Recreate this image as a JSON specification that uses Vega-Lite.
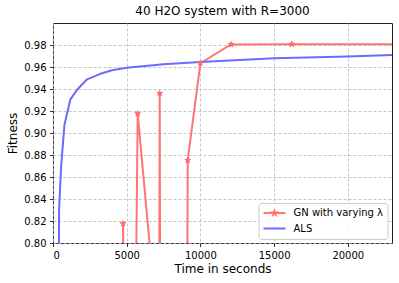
{
  "$schema": "https://vega.github.io/schema/vega-lite/v6.json",
  "width": 339,
  "height": 220,
  "autosize": {"type": "none"},
  "padding": {"left": 53, "top": 23, "right": 7, "bottom": 40},
  "background": "white",
  "title": {"text": "40 H2O system with R=3000", "fontSize": 12, "font": "DejaVu Sans", "fontWeight": "normal", "color": "#000000", "offset": 5, "anchor": "middle"},
  "config": {
    "font": "DejaVu Sans",
    "view": {"stroke": "#222222", "strokeWidth": 1},
    "axis": {
      "domain": false,
      "grid": true,
      "gridColor": "#b8b8b8",
      "gridWidth": 0.8,
      "gridDash": [3, 2],
      "tickColor": "#000000",
      "tickSize": 3.5,
      "tickWidth": 0.8,
      "labelFont": "DejaVu Sans",
      "labelFontSize": 10,
      "labelColor": "#000000",
      "labelPadding": 3.5,
      "titleFont": "DejaVu Sans",
      "titleFontSize": 12,
      "titleFontWeight": "normal",
      "titleColor": "#000000"
    }
  },
  "datasets": {
    "runs": [
      {"series": "GN with varying λ", "t": 4700, "fit": 0.70},
      {"series": "GN with varying λ", "t": 4756, "fit": 0.8176},
      {"series": "GN with varying λ", "t": 4810, "fit": 0.70},
      {"series": "GN with varying λ", "t": 5580, "fit": 0.70},
      {"series": "GN with varying λ", "t": 5746, "fit": 0.9176},
      {"series": "GN with varying λ", "t": 7200, "fit": 0.705},
      {"series": "GN with varying λ", "t": 7239, "fit": 0.936},
      {"series": "GN with varying λ", "t": 7280, "fit": 0.70},
      {"series": "GN with varying λ", "t": 9100, "fit": 0.70},
      {"series": "GN with varying λ", "t": 9138, "fit": 0.8752},
      {"series": "GN with varying λ", "t": 10000, "fit": 0.9634},
      {"series": "GN with varying λ", "t": 12083, "fit": 0.9805},
      {"series": "GN with varying λ", "t": 16194, "fit": 0.9807},
      {"series": "GN with varying λ", "t": 24000, "fit": 0.9808},
      {"series": "ALS", "t": 380, "fit": 0.60},
      {"series": "ALS", "t": 410, "fit": 0.83},
      {"series": "ALS", "t": 550, "fit": 0.869},
      {"series": "ALS", "t": 773, "fit": 0.907},
      {"series": "ALS", "t": 1180, "fit": 0.9306},
      {"series": "ALS", "t": 1676, "fit": 0.940},
      {"series": "ALS", "t": 2313, "fit": 0.9488},
      {"series": "ALS", "t": 3216, "fit": 0.9538},
      {"series": "ALS", "t": 4000, "fit": 0.957},
      {"series": "ALS", "t": 5000, "fit": 0.9594},
      {"series": "ALS", "t": 7500, "fit": 0.9625},
      {"series": "ALS", "t": 10000, "fit": 0.9645},
      {"series": "ALS", "t": 15000, "fit": 0.968},
      {"series": "ALS", "t": 20000, "fit": 0.9695},
      {"series": "ALS", "t": 23000, "fit": 0.9709}
    ]
  },
  "data": {"name": "runs"},
  "encoding": {
    "x": {"field": "t", "type": "quantitative", "title": "Time in seconds",
      "scale": {"domain": [0, 23000], "nice": false, "zero": false},
      "axis": {"values": [0, 5000, 10000, 15000, 20000], "format": "d", "titlePadding": 3}},
    "y": {"field": "fit", "type": "quantitative", "title": "Fitness",
      "scale": {"domain": [0.8, 1.0], "nice": false, "zero": false},
      "axis": {"values": [0.80, 0.82, 0.84, 0.86, 0.88, 0.90, 0.92, 0.94, 0.96, 0.98], "format": ".2f", "titlePadding": 4}}
  },
  "layer": [
    {
      "mark": {"type": "line", "clip": true, "strokeWidth": 2, "strokeJoin": "round", "strokeCap": "round"},
      "encoding": {
        "color": {"field": "series", "type": "nominal",
          "scale": {"domain": ["GN with varying λ", "ALS"], "range": ["#ff7474", "#6b6bff"]},
          "legend": {
            "title": null,
            "orient": "none",
            "legendX": 205.5,
            "legendY": 180,
            "direction": "vertical",
            "fillColor": "rgba(255,255,255,0.85)",
            "strokeColor": "#cccccc",
            "cornerRadius": 3,
            "padding": 4,
            "labelFont": "DejaVu Sans",
            "labelFontSize": 10,
            "labelColor": "#000000",
            "labelOffset": 7,
            "symbolSize": 484,
            "symbolStrokeWidth": 2,
            "clipHeight": 12,
            "rowPadding": 3.6,
            "encode": {
              "symbols": {
                "update": {
                  "shape": {"signal": "datum.value === 'ALS' ? 'M-1,0L1,0' : 'M-1,0L1,0M0,-0.17L0.0382,-0.0525L0.1617,-0.0525L0.0617,0.0201L0.1,0.1375L0,0.0649L-0.1,0.1375L-0.0617,0.0201L-0.1617,-0.0525L-0.0382,-0.0525Z'"},
                  "fill": {"signal": "datum.value === 'ALS' ? 'transparent' : '#ff7474'"},
                  "stroke": {"signal": "datum.value === 'ALS' ? '#6b6bff' : '#ff7474'"},
                  "strokeWidth": {"value": 2},
                  "opacity": {"value": 1}
                }
              }
            }
          }
        }
      }
    },
    {
      "transform": [{"filter": "datum.series !== 'ALS'"}],
      "mark": {"type": "point", "clip": true, "filled": true, "fill": "#ff6a6a", "stroke": "#ff6a6a", "opacity": 1, "strokeWidth": 1, "size": 36,
        "shape": "M0,-1L0.2245,-0.309L0.951,-0.309L0.363,0.118L0.588,0.809L0,0.382L-0.588,0.809L-0.363,0.118L-0.951,-0.309L-0.2245,-0.309Z"}
    }
  ]
}
